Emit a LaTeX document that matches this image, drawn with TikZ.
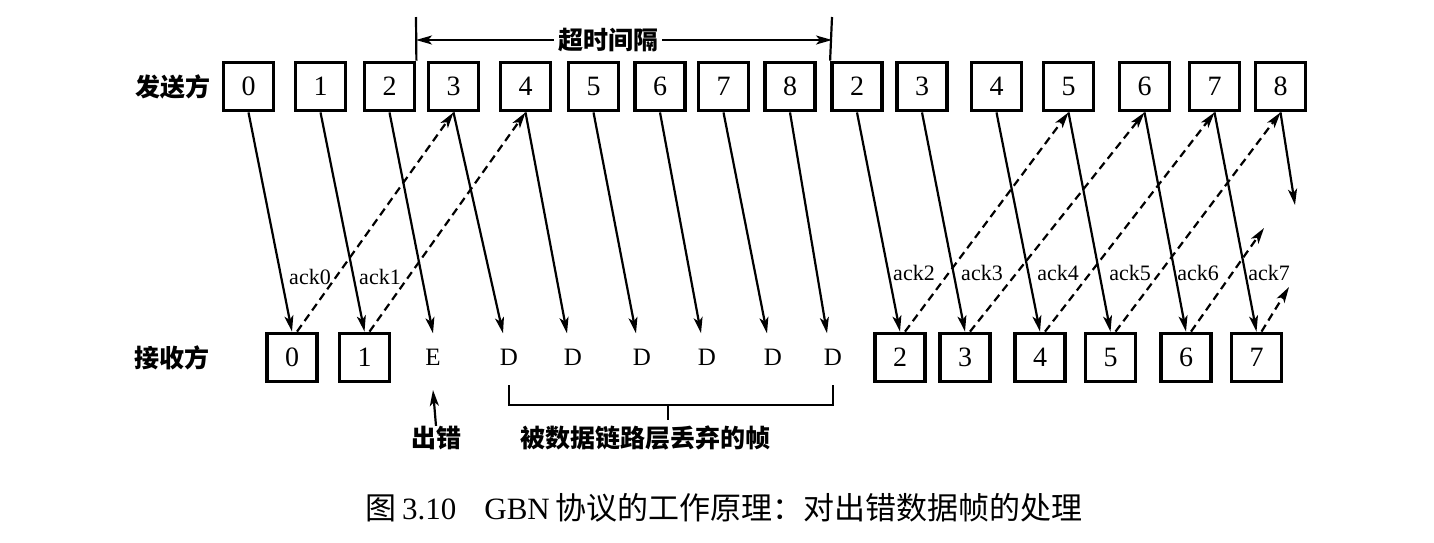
\documentclass[tikz,border=0pt]{standalone}
\usepackage{fontspec}
\setmainfont{Liberation Serif}
\newfontfamily\hei{Noto Sans CJK SC}
\usetikzlibrary{arrows.meta}
\tikzset{
  frm/.style={draw, line width=3.8pt, minimum width=50pt, minimum height=48pt, inner sep=0pt, font=\fontsize{28}{28}\selectfont},
  ftxt/.style={minimum width=30pt, minimum height=48pt, inner sep=0pt, font=\fontsize{25}{25}\selectfont},
  data/.style={line width=2.2pt, -{Stealth[length=16pt,width=9pt,inset=4pt]}},
  ack/.style={data, dash pattern=on 8pt off 5pt},
  acklab/.style={font=\fontsize{22}{22}\selectfont, inner sep=0pt},
  cjk/.style={font=\hei\bfseries\fontsize{25}{25}\selectfont, inner sep=0pt},
  thin/.style={line width=2.2pt},
}
\begin{document}
\begin{tikzpicture}[x=1pt,y=-1pt]
\path[use as bounding box, fill=white] (0,0) rectangle (1434,542);

% row labels
\node[cjk] (snd) at (173,86.5) {发送方};
\node[cjk] (rcv) at (172,358) {接收方};

% sender frames
\foreach \n/\x/\t in {s0/248.5/0, s1/320.5/1, s2/389.5/2, s3/453.5/3, s4/525.5/4, s5/593.5/5, s6/660/6, s7/723.5/7, s8/790/8,
  t2/857/2, t3/922/3, t4/996.5/4, t5/1068.5/5, t6/1144.5/6, t7/1214.5/7, t8/1280.5/8}
  \node[frm] (\n) at (\x,86.5) {\t};

% receiver frames
\foreach \n/\x/\t in {r0/292/0, r1/364.5/1, r2/900/2, r3/965/3, r4/1040/4, r5/1110.5/5, r6/1186/6, r7/1256.5/7}
  \node[frm] (\n) at (\x,357.5) {\t};
\node[ftxt] (rE) at (433,357.5) {E};
\foreach \n/\x in {d3/509, d4/573, d5/642, d6/707, d7/773, d8/833}
  \node[ftxt] (\n) at (\x,357.5) {D};

% timeout interval
\coordinate (tlt) at (416,17);
\coordinate (trt) at (832,17);
\coordinate (tla) at (416,40);
\coordinate (tra) at (832,40);
\draw[thin] (s2.north east) -- (tlt);
\draw[thin] (t2.north west) -- (trt);
\node[cjk, inner xsep=4pt] (tlab) at (608,40) {超时间隔};
\draw[data] (tlab.west) -- (tla);
\draw[data] (tlab.east) -- (tra);

% data frames
\draw[data] (s0.south) -- (r0.north);
\draw[data] (s1.south) -- (r1.north);
\draw[data] (s2.south) -- (rE.north);
\draw[data] (s3.south) -- ([xshift=-6pt]d3.north);
\draw[data] (s4.south) -- ([xshift=-6pt]d4.north);
\draw[data] (s5.south) -- ([xshift=-6pt]d5.north);
\draw[data] (s6.south) -- ([xshift=-6pt]d6.north);
\draw[data] (s7.south) -- ([xshift=-6pt]d7.north);
\draw[data] (s8.south) -- ([xshift=-6pt]d8.north);
\draw[data] (t2.south) -- (r2.north);
\draw[data] (t3.south) -- (r3.north);
\draw[data] (t4.south) -- (r4.north);
\draw[data] (t5.south) -- (r5.north);
\draw[data] (t6.south) -- (r6.north);
\draw[data] (t7.south) -- (r7.north);
\coordinate (t8end) at (1295,205);
\draw[data] (t8.south) -- (t8end);

% acknowledgements
\coordinate (a6end) at (1264,228);
\coordinate (a7end) at (1289,287);
\draw[ack] ([xshift=5pt]r0.north) -- (s3.south);
\draw[ack] ([xshift=5pt]r1.north) -- (s4.south);
\draw[ack] ([xshift=5pt]r2.north) -- (t5.south);
\draw[ack] ([xshift=5pt]r3.north) -- (t6.south);
\draw[ack] ([xshift=5pt]r4.north) -- (t7.south);
\draw[ack] ([xshift=5pt]r5.north) -- (t8.south);
\draw[ack] ([xshift=5pt]r6.north) -- (a6end);
\draw[ack] ([xshift=5pt]r7.north) -- (a7end);

\node[acklab] (k0) at (310,277) {ack0};
\node[acklab] (k1) at (380,277) {ack1};
\node[acklab] (k2) at (914,273) {ack2};
\node[acklab] (k3) at (982,273) {ack3};
\node[acklab] (k4) at (1058,273) {ack4};
\node[acklab] (k5) at (1130,273) {ack5};
\node[acklab] (k6) at (1198,273) {ack6};
\node[acklab] (k7) at (1269,273) {ack7};

% error and discarded
\node[cjk] (err) at (436,438) {出错};
\coordinate (errtip) at (433,390);
\draw[data] (err.north) -- (errtip);
\node[cjk] (disc) at (645,438) {被数据链路层丢弃的帧};
\coordinate (bl) at (509,385);
\coordinate (br) at (833,385);
\coordinate (bm) at (668,420);
\draw[thin] (bl) -- (bl |- 0,405) -- (br |- 0,405) -- (br);
\draw[thin] (bm |- 0,405) -- (bm);

% caption
\node[inner sep=0pt, font=\fontsize{31}{31}\selectfont] (cap) at (724,508)
  {{\hei 图}\,3.10\hspace{28pt}GBN\,{\hei 协议的工作原理：对出错数据帧的处理}};
\end{tikzpicture}
\end{document}
